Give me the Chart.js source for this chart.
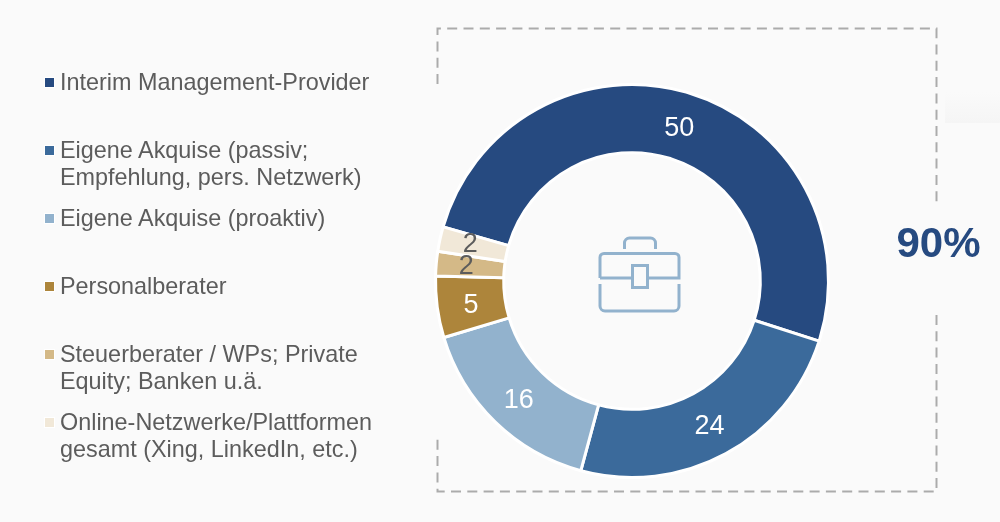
<!DOCTYPE html>
<html lang="de">
<head>
<meta charset="utf-8">
<title>Interim Management Kanäle</title>
<script src="https://cdn.jsdelivr.net/npm/chart.js@4"></script>
<style>
html,body{margin:0;padding:0;background:#fafafa;overflow:hidden}
#wrap{position:relative;width:1000px;height:522px;font-family:"Liberation Sans",Arial,sans-serif}
canvas{position:absolute;left:0;top:0}
svg{position:absolute;left:0;top:0}
#sheen{position:absolute;left:945px;top:92px;width:55px;height:31px;background:linear-gradient(to bottom,rgba(244,244,244,0),#f5f5f5)}
.item{position:absolute;left:60px;color:#5c5c5c;font-size:23.4px;line-height:27px;white-space:pre}
.sw{position:absolute;left:45px;width:9px;height:9px;outline:1px solid #fff}
#total{position:absolute;left:889px;width:99px;text-align:center;top:219px;font-size:42px;line-height:48px;font-weight:bold;color:#264a80}
</style>
</head>
<body>
<div id="wrap">
<div id="sheen"></div>
<canvas id="c" width="1000" height="522"></canvas>
<svg width="1000" height="522" viewBox="0 0 1000 522" fill="none">
  <path d="M437.5 84V28.5H936.5V206M936.5 315V491.5H437.5V435" stroke="#ababab" stroke-width="2" stroke-dasharray="10 6.3"/>
  <g stroke="#92b2cd" stroke-width="3">
    <path d="M600 278V257.5a4 4 0 0 1 4-4h71a4 4 0 0 1 4 4V278H648M632 278H600"/>
    <path d="M600 284V306a5 5 0 0 0 5 5h69a5 5 0 0 0 5-5V284"/>
    <rect x="632.5" y="265.5" width="15" height="22"/>
    <path d="M624.5 249V243a5 5 0 0 1 5-5h21a5 5 0 0 1 5 5v6"/>
  </g>
</svg>
<div id="legend"></div>
<div id="total">90%</div>
</div>
<script>
const categories = [
  "Interim Management-Provider",
  "Eigene Akquise (passiv;\nEmpfehlung, pers. Netzwerk)",
  "Eigene Akquise (proaktiv)",
  "Personalberater",
  "Steuerberater / WPs; Private\nEquity; Banken u.ä.",
  "Online-Netzwerke/Plattformen\ngesamt (Xing, LinkedIn, etc.)"
];
const values = [50, 24, 16, 5, 2, 2];
const sliceColors = ["#264a80", "#3b6a9b", "#92b2cd", "#ad853b", "#d4b987", "#f1e8d8"];
const labelColors = ["#ffffff", "#ffffff", "#ffffff", "#ffffff", "#5c5c5c", "#5c5c5c"];
const legendTops = [69, 137, 205, 273, 341, 409];
const swatchTops = [78, 146, 214, 282, 350, 418];
const labelNudgeX = [0, 0, 0, 0, -4, -3];
const labelNudgeY = [3, 3, 3, 3, 0, -2];

const legend = document.getElementById("legend");
categories.forEach((name, i) => {
  const sw = document.createElement("div");
  sw.className = "sw";
  sw.style.top = swatchTops[i] + "px";
  sw.style.background = sliceColors[i];
  legend.appendChild(sw);
  const item = document.createElement("div");
  item.className = "item";
  item.style.top = legendTops[i] + "px";
  item.textContent = name;
  legend.appendChild(item);
});

const sliceLabels = {
  id: "sliceLabels",
  afterDatasetsDraw(chart) {
    const ctx = chart.ctx;
    const arcs = chart.getDatasetMeta(0).data;
    ctx.save();
    ctx.textAlign = "center";
    ctx.textBaseline = "middle";
    ctx.font = '27px "Liberation Sans", Arial, sans-serif';
    arcs.forEach((arc, i) => {
      const p = arc.getCenterPoint();
      ctx.fillStyle = labelColors[i];
      ctx.fillText(String(values[i]), p.x + labelNudgeX[i], p.y + labelNudgeY[i]);
    });
    ctx.restore();
  }
};

new Chart(document.getElementById("c"), {
  type: "doughnut",
  data: {
    labels: categories,
    datasets: [{
      data: values,
      backgroundColor: sliceColors,
      borderColor: "#ffffff",
      borderWidth: 3
    }]
  },
  options: {
    responsive: false,
    animation: false,
    rotation: -74,
    cutout: "65.3%",
    layout: { padding: { left: 434, right: 170, top: 83, bottom: 43 } },
    plugins: { legend: { display: false }, tooltip: { enabled: false } }
  },
  plugins: [sliceLabels]
});
</script>
</body>
</html>
